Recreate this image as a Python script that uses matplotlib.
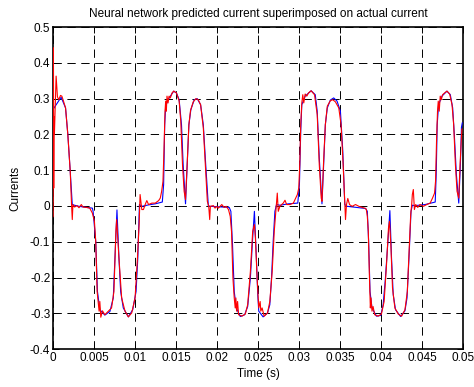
import matplotlib
matplotlib.use('Agg')
import matplotlib.pyplot as plt
from matplotlib.ticker import FuncFormatter

plt.rcParams['font.family'] = ['Liberation Sans', 'DejaVu Sans']
plt.rcParams['font.size'] = 8.5
plt.rcParams['lines.scale_dashes'] = False

# actual current (blue)
t_actual = [0.00000, 0.00057, 0.00098, 0.00152, 0.00180, 0.00209, 0.00234, 0.00262, 0.00316, 0.00406,
            0.00479, 0.00488, 0.00520, 0.00541, 0.00570, 0.00631, 0.00693, 0.00734, 0.00754, 0.00779,
            0.00803, 0.00824, 0.00856, 0.00918, 0.00971, 0.01012, 0.01033, 0.01053, 0.01082, 0.01164,
            0.01246, 0.01332, 0.01348, 0.01361, 0.01373, 0.01402, 0.01443, 0.01471, 0.01504, 0.01537,
            0.01566, 0.01586, 0.01615, 0.01635, 0.01656, 0.01680, 0.01721, 0.01758, 0.01799, 0.01832,
            0.01861, 0.01893, 0.01914, 0.02057, 0.02148, 0.02168, 0.02188, 0.02209, 0.02234, 0.02283,
            0.02336, 0.02373, 0.02406, 0.02434, 0.02455, 0.02479, 0.02496, 0.02508, 0.02561, 0.02615,
            0.02643, 0.02664, 0.02684, 0.02705, 0.02725, 0.02766, 0.02869, 0.02984, 0.03004, 0.03020,
            0.03033, 0.03074, 0.03147, 0.03197, 0.03221, 0.03246, 0.03279, 0.03299, 0.03320, 0.03344,
            0.03381, 0.03422, 0.03463, 0.03504, 0.03533, 0.03557, 0.03586, 0.03811, 0.03832, 0.03848,
            0.03865, 0.03889, 0.03943, 0.03996, 0.04025, 0.04053, 0.04086, 0.04107, 0.04127, 0.04148,
            0.04176, 0.04238, 0.04291, 0.04316, 0.04340, 0.04365, 0.04381, 0.04414, 0.04537, 0.04660,
            0.04672, 0.04684, 0.04701, 0.04742, 0.04803, 0.04844, 0.04873, 0.04893, 0.04918, 0.04947,
            0.04967, 0.04980, 0.04990]
i_actual = [0.270, 0.290, 0.304, 0.274, 0.199, 0.097, 0.004, 0.002, -0.001, -0.004,
            -0.006, -0.015, -0.099, -0.239, -0.290, -0.305, -0.295, -0.257, -0.145, -0.011,
            -0.145, -0.239, -0.285, -0.310, -0.290, -0.239, -0.145, 0.004, -0.001, 0.003,
            0.006, 0.011, 0.060, 0.227, 0.279, 0.297, 0.311, 0.321, 0.316, 0.297,
            0.227, 0.116, 0.006, 0.116, 0.227, 0.269, 0.297, 0.300, 0.283, 0.227,
            0.116, 0.001, -0.001, -0.003, -0.004, -0.015, -0.108, -0.239, -0.285, -0.309,
            -0.304, -0.281, -0.201, -0.089, -0.015, -0.145, -0.248, -0.294, -0.310, -0.299,
            -0.276, -0.201, -0.099, -0.015, 0.004, 0.002, 0.006, 0.008, 0.060, 0.209,
            0.283, 0.307, 0.322, 0.311, 0.265, 0.134, 0.006, 0.116, 0.227, 0.274,
            0.296, 0.302, 0.293, 0.265, 0.153, 0.004, -0.001, -0.007, -0.015, -0.099,
            -0.239, -0.285, -0.308, -0.306, -0.276, -0.201, -0.089, -0.013, -0.145, -0.248,
            -0.290, -0.309, -0.293, -0.257, -0.145, -0.015, 0.002, 0.001, 0.004, 0.011,
            0.088, 0.227, 0.283, 0.307, 0.321, 0.311, 0.274, 0.199, 0.088, 0.008,
            0.116, 0.220, 0.232]

# neural network prediction (red)
t_pred = [0.00000, 0.00004, 0.00008, 0.00012, 0.00016, 0.00037, 0.00053, 0.00070, 0.00090, 0.00107,
          0.00127, 0.00152, 0.00180, 0.00209, 0.00225, 0.00234, 0.00242, 0.00262, 0.00291, 0.00316,
          0.00344, 0.00365, 0.00406, 0.00447, 0.00479, 0.00504, 0.00520, 0.00537, 0.00549, 0.00561,
          0.00570, 0.00582, 0.00602, 0.00631, 0.00713, 0.00742, 0.00766, 0.00775, 0.00803, 0.00836,
          0.00877, 0.00918, 0.00959, 0.01000, 0.01029, 0.01049, 0.01061, 0.01082, 0.01102, 0.01123,
          0.01143, 0.01164, 0.01205, 0.01246, 0.01287, 0.01307, 0.01324, 0.01340, 0.01352, 0.01365,
          0.01373, 0.01381, 0.01389, 0.01402, 0.01414, 0.01430, 0.01451, 0.01471, 0.01504, 0.01537,
          0.01557, 0.01578, 0.01598, 0.01615, 0.01635, 0.01656, 0.01676, 0.01709, 0.01742, 0.01770,
          0.01799, 0.01832, 0.01857, 0.01881, 0.01898, 0.01910, 0.01918, 0.01955, 0.01975, 0.01996,
          0.02016, 0.02057, 0.02086, 0.02111, 0.02139, 0.02160, 0.02176, 0.02193, 0.02209, 0.02221,
          0.02229, 0.02238, 0.02250, 0.02262, 0.02303, 0.02344, 0.02373, 0.02406, 0.02434, 0.02455,
          0.02467, 0.02488, 0.02508, 0.02525, 0.02533, 0.02549, 0.02574, 0.02615, 0.02643, 0.02672,
          0.02697, 0.02717, 0.02734, 0.02746, 0.02766, 0.02787, 0.02807, 0.02828, 0.02848, 0.02889,
          0.02930, 0.02959, 0.02979, 0.02996, 0.03008, 0.03020, 0.03033, 0.03045, 0.03057, 0.03074,
          0.03094, 0.03115, 0.03147, 0.03188, 0.03221, 0.03246, 0.03270, 0.03279, 0.03299, 0.03320,
          0.03344, 0.03381, 0.03410, 0.03443, 0.03484, 0.03512, 0.03537, 0.03557, 0.03566, 0.03578,
          0.03594, 0.03615, 0.03647, 0.03688, 0.03729, 0.03770, 0.03811, 0.03820, 0.03832, 0.03844,
          0.03857, 0.03869, 0.03877, 0.03889, 0.03902, 0.03922, 0.03963, 0.04004, 0.04037, 0.04066,
          0.04090, 0.04102, 0.04119, 0.04139, 0.04168, 0.04209, 0.04250, 0.04291, 0.04320, 0.04340,
          0.04361, 0.04373, 0.04381, 0.04393, 0.04406, 0.04422, 0.04447, 0.04475, 0.04516, 0.04557,
          0.04598, 0.04627, 0.04652, 0.04664, 0.04676, 0.04688, 0.04697, 0.04709, 0.04721, 0.04734,
          0.04750, 0.04775, 0.04803, 0.04836, 0.04865, 0.04885, 0.04906, 0.04926, 0.04947, 0.04963,
          0.04985]
i_pred = [-0.030, 0.442, 0.050, 0.250, 0.200, 0.363, 0.305, 0.297, 0.309, 0.307,
          0.293, 0.274, 0.199, 0.097, 0.004, -0.038, 0.004, -0.003, 0.001, -0.005,
          0.004, -0.003, -0.004, -0.006, -0.020, -0.043, -0.099, -0.239, -0.267, -0.294,
          -0.267, -0.311, -0.293, -0.304, -0.285, -0.239, -0.071, -0.038, -0.145, -0.257,
          -0.294, -0.310, -0.299, -0.257, -0.145, -0.052, 0.032, -0.010, -0.010, 0.004,
          0.015, 0.004, 0.008, 0.008, 0.015, 0.022, 0.041, 0.069, 0.153, 0.265,
          0.293, 0.265, 0.307, 0.288, 0.307, 0.302, 0.316, 0.321, 0.316, 0.294,
          0.237, 0.116, 0.041, 0.018, 0.116, 0.227, 0.267, 0.291, 0.300, 0.297,
          0.283, 0.218, 0.116, 0.013, -0.001, -0.038, -0.001, 0.001, -0.006, -0.001,
          -0.006, 0.004, -0.004, -0.001, -0.010, -0.029, -0.071, -0.201, -0.257, -0.285,
          -0.257, -0.294, -0.267, -0.304, -0.308, -0.302, -0.276, -0.183, -0.071, -0.052,
          -0.089, -0.201, -0.285, -0.267, -0.294, -0.285, -0.308, -0.299, -0.267, -0.183,
          -0.071, -0.015, 0.036, -0.015, -0.001, 0.004, 0.008, 0.016, 0.004, 0.004,
          0.008, 0.022, 0.032, 0.050, 0.116, 0.227, 0.288, 0.311, 0.288, 0.313,
          0.307, 0.316, 0.322, 0.311, 0.255, 0.116, 0.022, 0.013, 0.125, 0.227,
          0.279, 0.294, 0.297, 0.291, 0.274, 0.227, 0.116, 0.013, -0.038, 0.004,
          0.021, 0.004, -0.001, 0.004, -0.001, -0.004, -0.007, -0.010, -0.029, -0.071,
          -0.192, -0.285, -0.257, -0.294, -0.281, -0.304, -0.308, -0.302, -0.267, -0.164,
          -0.062, -0.043, -0.108, -0.229, -0.285, -0.302, -0.308, -0.290, -0.239, -0.136,
          -0.024, 0.004, 0.032, 0.046, -0.010, 0.004, -0.004, 0.004, -0.001, 0.004,
          0.008, 0.022, 0.036, 0.069, 0.180, 0.265, 0.293, 0.265, 0.307, 0.297,
          0.311, 0.316, 0.321, 0.313, 0.283, 0.227, 0.116, 0.041, 0.022, 0.116,
          0.215]

x_ticks = [0, 0.005, 0.01, 0.015, 0.02, 0.025, 0.03, 0.035, 0.04, 0.045, 0.05]
y_ticks = [-0.4, -0.3, -0.2, -0.1, 0, 0.1, 0.2, 0.3, 0.4, 0.5]

fig = plt.figure(figsize=(4.74, 3.87), dpi=100)
ax = fig.add_axes([0.112, 0.098, 0.865, 0.832])

# lines drawn over the spines, as in the original
ax.plot(t_actual, i_actual, color='blue', lw=0.8, zorder=3)
ax.plot(t_pred, i_pred, color='red', lw=0.8, zorder=3)

ax.set_xlim(0, 0.05)
ax.set_ylim(-0.4, 0.5)
ax.set_xticks(x_ticks)
ax.set_yticks(y_ticks)
fmt = FuncFormatter(lambda v, p: '%g' % round(v, 4))
ax.xaxis.set_major_formatter(fmt)
ax.yaxis.set_major_formatter(fmt)
ax.tick_params(direction='in', length=4, width=0.7, top=True, right=True, pad=2)
ax.grid(True, color='black', lw=0.7, linestyle=(0, (6, 4)))
for s in ax.spines.values():
    s.set_linewidth(1.2)

ax.set_xlabel('Time (s)', labelpad=3)
ax.set_ylabel('Currents', labelpad=6)
ax.set_title('Neural network predicted current superimposed on actual current', fontsize=8.5, pad=7)

fig.savefig('out.png', dpi=100)
